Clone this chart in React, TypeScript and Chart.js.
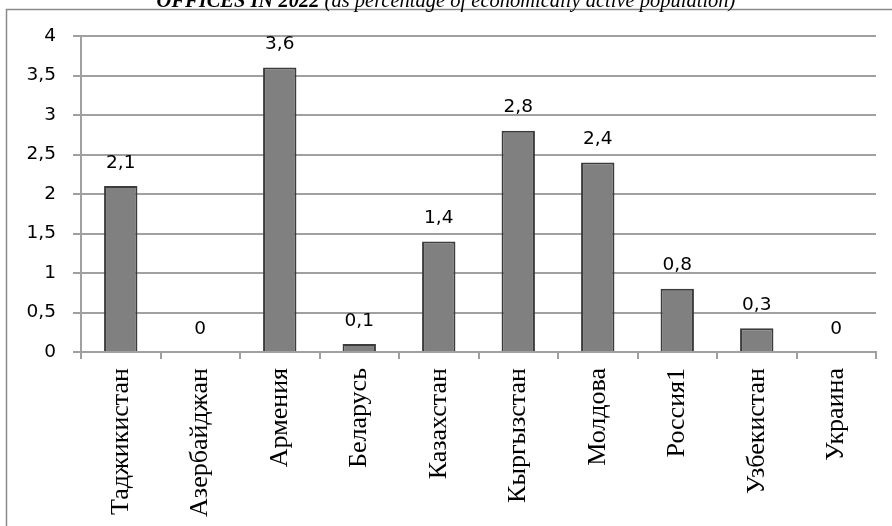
import React, { useEffect, useRef } from "react";
import { Chart, registerables } from "chart.js";

Chart.register(...registerables);

const categories = [
  "Таджикистан",
  "Азербайджан",
  "Армения",
  "Беларусь",
  "Казахстан",
  "Кыргызстан",
  "Молдова",
  "Россия1",
  "Узбекистан",
  "Украина",
];
const values = [2.1, 0, 3.6, 0.1, 1.4, 2.8, 2.4, 0.8, 0.3, 0];
const yMin = 0;
const yMax = 4;
const yStep = 0.5;
const titleBold = "OFFICES IN 2022";
const titleRest = " (as percentage of economically active population)";

const fmt = (v: number) => String(v).replace(".", ",");

const GRID = "#a0a0a0";
const NUM_FONT = "DejaVu Sans";
const NUM_SIZE = 18.5;

const decorPlugin = {
  id: "decor",
  beforeDraw(chart: any) {
    const ctx = chart.ctx;
    ctx.save();
    ctx.strokeStyle = "#8a8a8a";
    ctx.lineWidth = 1.5;
    ctx.strokeRect(6.5, 9.5, 1200, 1200);
    ctx.restore();
  },
  afterDraw(chart: any) {
    const ctx = chart.ctx;
    ctx.save();
    const fBold = "italic bold 20.5px 'Liberation Serif'";
    const fIt = "italic 20.5px 'Liberation Serif'";
    ctx.font = fBold;
    const w1 = ctx.measureText(titleBold).width;
    ctx.font = fIt;
    const w2 = ctx.measureText(titleRest).width;
    const start = 446 - (w1 + w2) / 2;
    ctx.fillStyle = "#000";
    ctx.textBaseline = "alphabetic";
    ctx.textAlign = "left";
    ctx.font = fBold;
    ctx.fillText(titleBold, start, 6.5);
    ctx.font = fIt;
    ctx.fillText(titleRest, start + w1, 6.5);

    const meta = chart.getDatasetMeta(0);
    ctx.font = `${NUM_SIZE}px '${NUM_FONT}'`;
    ctx.textAlign = "center";
    meta.data.forEach((el: any, i: number) => {
      ctx.fillText(fmt(values[i]), el.x, el.y - 18.5);
    });
    ctx.restore();
  },
};

export default function App() {
  const ref = useRef<HTMLCanvasElement>(null);
  useEffect(() => {
    if (!ref.current) return;
    const chart = new Chart(ref.current, {
      type: "bar",
      data: {
        labels: categories,
        datasets: [
          {
            data: values,
            backgroundColor: "#808080",
            borderColor: "#3c3c3c",
            borderWidth: 2,
            categoryPercentage: 1,
            barPercentage: 0.42,
          },
        ],
      },
      options: {
        responsive: false,
        animation: false,
        devicePixelRatio: 1,
        layout: { padding: { top: 36, right: 16, left: 0, bottom: 0 } },
        plugins: {
          legend: { display: false },
          tooltip: { enabled: false },
          title: { display: false },
        },
        scales: {
          x: {
            type: "category",
            offset: true,
            grid: {
              offset: true,
              drawOnChartArea: false,
              drawTicks: true,
              tickLength: 7,
              color: GRID,
              lineWidth: 2,
            },
            border: { color: GRID, width: 2 },
            ticks: {
              autoSkip: false,
              maxRotation: 90,
              minRotation: 90,
              padding: 9,
              color: "#000",
              font: { family: "'Liberation Serif'", size: 26 },
            },
            afterFit: (s: any) => {
              s.height = 526 - 352;
            },
          },
          y: {
            min: yMin,
            max: yMax,
            ticks: {
              stepSize: yStep,
              padding: 17,
              color: "#000",
              font: { family: NUM_FONT, size: NUM_SIZE },
              callback: (v: any) => fmt(Number(v)),
            },
            grid: { color: GRID, lineWidth: 2, tickLength: 8 },
            border: { color: GRID, width: 2 },
            afterFit: (s: any) => {
              s.width = 81;
            },
          },
        },
      },
      plugins: [decorPlugin],
    });
    return () => chart.destroy();
  }, []);
  return (
    <div style={{ position: "fixed", left: 0, top: 0, width: 892, height: 526, background: "#fff" }}>
      <canvas ref={ref} width={892} height={526} style={{ width: 892, height: 526, display: "block" }} />
    </div>
  );
}
